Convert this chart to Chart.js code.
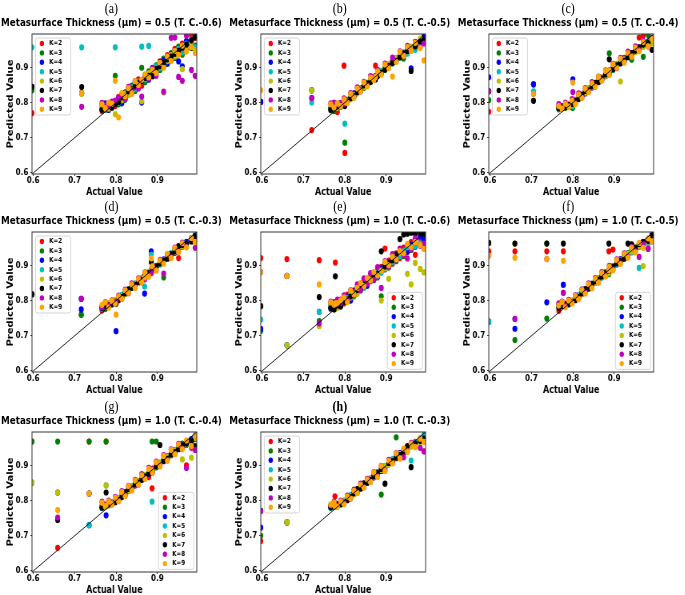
<!DOCTYPE html>
<html>
<head>
<meta charset="utf-8">
<script src="https://cdn.jsdelivr.net/npm/chart.js@4.4.1/dist/chart.umd.min.js"></script>
<style>
  html, body { margin: 0; background: #fff; }
  /* the source figure is horizontally condensed, so everything is laid out wider and squeezed */
  #fig { position: relative; width: 856px; height: 595px; transform: scaleX(0.8); transform-origin: 0 0; overflow: hidden; }
  #fig canvas { position: absolute; }
  .tag { position: absolute; width: 300px; text-align: center; font: 15px/16px "Liberation Serif", serif; color: #000; }
  .sub { position: absolute; width: 340px; text-align: center; font: bold 11px/12px "DejaVu Sans", sans-serif; color: #000; white-space: nowrap; }
</style>
</head>
<body>
<div id="fig"></div>
<script>
const kLabels = ['K=2', 'K=3', 'K=4', 'K=5', 'K=6', 'K=7', 'K=8', 'K=9'];
const kColors = ['#ff0000', '#008000', '#0000ff', '#00bfbf', '#bfbf00', '#000000', '#bf00bf', '#ffa500'];
const axisLimits = [0.597, 0.995];
const tickValues = [0.6, 0.7, 0.8, 0.9];

// actual values of the main band, shared by all panels
const bandActual = [.766, .774, .782, .790, .798, .806, .814, .822, .830, .838, .846, .854, .862, .870,
  .879, .888, .897, .906, .915, .924, .933, .942, .951, .960, .970, .982, .991];

// ---- (a) 0.5 / T.C.-0.6
const outActualA = [.597, .717];
const outPredA = [
  [.770, .827], [.835, .826], [.845, .828], [.957, .957],
  [null, .826], [.845, .844], [null, .788], [null, .827]
];
const bandPredA = [
  [.776, .795, .782, .801, .790, .816, .803, .812, .840, .826, .852, .866, .848, .879, .870, .894, .885, .917, .903, .935, .921, .953, .938, .968, .949, .990, .984],
  [.792, .780, .797, .785, .876, .795, .823, .808, .822, .848, .833, .843, .899, .858, .889, .875, .906, .893, .925, .910, .941, .927, .959, .936, .974, .955, .962],
  [.781, .798, .779, .788, .803, .812, .798, .829, .836, .829, .858, .841, .800, .877, .865, .899, .883, .915, .920, .912, .938, .948, .917, .903, .975, .963, .988],
  [.789, .783, .796, .799, .957, .799, .820, .816, .834, .843, .839, .860, .959, .866, .961, .881, .903, .898, .909, .928, .925, .945, .953, .943, .968, .979, .958],
  [.794, .786, .783, .792, .767, .809, .807, .826, .821, .833, .851, .847, .804, .874, .884, .879, .892, .911, .829, .918, .936, .931, .940, .895, .959, .972, .950],
  [.780, .789, .793, .786, .796, .801, .815, .818, .832, .838, .846, .856, .862, .870, .876, .875, .895, .904, .913, .923, .931, .939, .947, .956, .965, .977, .986],
  [.799, .791, .790, .803, .806, .814, .823, .810, .845, .836, .861, .840, .817, .878, .868, .897, .876, .912, .831, .930, .984, .985, .873, .862, .990, .893, .876],
  [.795, .784, .800, .797, .862, .758, .827, .818, .841, .826, .861, .850, .865, .880, .872, .893, .884, .913, .899, .931, .918, .947, .936, .962, .945, .958, .941]
];

// ---- (b) 0.5 / T.C.-0.5
const outActualB = [.597, .720, .800, .874];
const outPredB = [
  [.802, .722, .657, .905], [.802, .835, .686, .875], [.802, .835, .795, .872], [null, .800, .740, .868],
  [null, .835, .800, .870], [null, .813, .790, .866], [null, .813, .797, .876], [.835, null, .802, .873]
];
const bandPredB = [
  [.778, .781, .773, .792, .905, .804, .812, .820, .831, .836, .846, .852, .862, .868, .880, .886, .897, .903, .916, .921, .933, .937, .948, .951, .965, .972, .985],
  [.783, .776, .790, .788, .796, .807, .810, .823, .827, .839, .842, .856, .858, .871, .876, .889, .893, .907, .911, .926, .928, .925, .950, .957, .958, .975, .980],
  [.786, .791, .787, .795, .800, .808, .815, .826, .832, .840, .848, .851, .863, .866, .882, .884, .899, .906, .918, .923, .936, .941, .944, .897, .968, .969, .988],
  [.781, .785, .792, .790, .797, .802, .817, .819, .828, .835, .847, .855, .860, .870, .877, .891, .895, .902, .912, .920, .931, .943, .939, .953, .950, .966, .974],
  [.790, .788, .785, .794, .801, .806, .811, .822, .826, .838, .844, .850, .865, .867, .881, .888, .900, .910, .915, .925, .934, .936, .952, .959, .963, .982, .971],
  [.780, .784, .789, .791, .794, .803, .813, .818, .830, .834, .849, .854, .859, .872, .875, .885, .894, .904, .913, .919, .929, .940, .947, .890, .960, .973, .978],
  [.798, .800, .797, .799, .812, .801, .827, .815, .843, .832, .859, .849, .875, .866, .893, .881, .911, .900, .928, .917, .946, .934, .961, .948, .973, .958, .968],
  [.795, .786, .798, .790, .809, .799, .824, .814, .840, .832, .857, .846, .871, .864, .889, .880, .908, .898, .874, .916, .944, .933, .958, .947, .970, .955, .920]
];

// ---- (c) 0.5 / T.C.-0.4
const outActualC = [.597, .705, .800, .888];
const outPredC = [
  [.774, .852, .790, .890], [.807, .852, .785, .940], [.872, .852, .866, .886], [.832, .832, .790, .885],
  [.832, .805, .795, .888], [.832, .805, .800, .923], [.832, .825, .830, .892], [null, .825, .857, .891]
];
const bandPredC = [
  [.786, .788, .790, .789, .795, .806, .816, .820, .829, .840, .844, .852, .860, .868, .879, .885, .898, .904, .913, .927, .934, .939, .950, .985, .990, .968, .982],
  [.781, .784, .785, .790, .786, .803, .811, .823, .831, .836, .846, .855, .862, .866, .881, .889, .893, .905, .918, .921, .935, .922, .947, .953, .930, .992, .975],
  [.787, .785, .791, .793, .797, .808, .815, .821, .826, .838, .843, .851, .858, .871, .875, .884, .897, .908, .911, .924, .931, .941, .945, .956, .960, .974, .979],
  [.783, .790, .788, .791, .799, .804, .812, .819, .830, .837, .848, .850, .861, .867, .878, .890, .894, .902, .916, .920, .930, .936, .949, .955, .963, .971, .972],
  [.789, .786, .792, .787, .801, .807, .817, .824, .828, .841, .845, .853, .864, .872, .876, .888, .899, .910, .860, .923, .933, .938, .944, .952, .958, .962, .968],
  [.784, .789, .787, .794, .796, .805, .810, .822, .833, .835, .847, .856, .859, .869, .880, .883, .895, .906, .914, .919, .929, .940, .948, .957, .965, .969, .950],
  [.796, .786, .800, .791, .810, .798, .826, .815, .841, .831, .858, .846, .874, .864, .892, .880, .910, .898, .927, .915, .945, .933, .960, .949, .975, .960, .984],
  [.790, .782, .797, .788, .806, .796, .823, .813, .839, .830, .855, .845, .873, .862, .890, .879, .909, .899, .924, .914, .941, .930, .956, .946, .972, .960, .981]
];

// ---- (d) 0.5 / T.C.-0.3
const outActualD = [.597, .716, .800, .869, .885];
const outPredD = [
  [.818, .760, .795, .865, .880], [.818, .760, .790, .870, .885], [.818, .775, .713, .820, .940], [.818, .805, .800, .840, .930],
  [.818, .805, .798, .868, .890], [.818, .805, .792, .872, .910], [null, .805, .797, .860, .878], [null, null, .760, .866, .920]
];
const bandPredD = [
  [.772, .785, .789, .792, .797, .804, .813, .819, .827, .839, .846, .851, .862, .869, .877, .888, .895, .904, .913, .924, .929, .938, .921, .957, .964, .972, .981],
  [.780, .776, .786, .790, .795, .806, .811, .822, .830, .836, .844, .854, .860, .867, .880, .885, .898, .907, .866, .921, .933, .941, .948, .953, .960, .969, .978],
  [.783, .787, .791, .789, .800, .807, .815, .820, .828, .840, .843, .852, .863, .871, .876, .890, .894, .905, .917, .926, .931, .936, .950, .956, .967, .975, .985],
  [.777, .786, .788, .794, .799, .803, .816, .824, .831, .838, .849, .856, .861, .866, .879, .887, .899, .902, .912, .927, .935, .944, .947, .960, .963, .976, .988],
  [.782, .790, .792, .795, .802, .808, .812, .818, .829, .841, .847, .850, .864, .872, .881, .886, .896, .909, .915, .920, .930, .939, .952, .955, .961, .971, .979],
  [.779, .784, .787, .791, .794, .801, .810, .821, .832, .837, .845, .853, .859, .870, .878, .889, .897, .906, .914, .919, .932, .940, .955, .958, .962, .968, .983],
  [.781, .796, .786, .801, .793, .814, .805, .831, .821, .849, .838, .863, .852, .880, .870, .898, .887, .916, .877, .932, .923, .951, .939, .965, .953, .978, .950],
  [.788, .795, .780, .799, .791, .812, .805, .829, .822, .846, .836, .861, .852, .879, .868, .897, .885, .914, .905, .933, .921, .949, .938, .963, .951, .978, .966]
];

// ---- (e) 1.0 / T.C.-0.6
const outActualE = [.597, .660, .738, .777];
const outPredE = [
  [.921, .918, .915, .908], [.714, .673, .742, .786], [.720, .673, .768, .790], [.746, .673, .768, .788],
  [.784, .673, .727, .776], [.784, .870, .810, .869], [.881, .870, .735, .790], [.881, .870, .846, .792]
];
const bandPredE = [
  [.781, .796, .785, .803, .792, .817, .806, .829, .824, .847, .839, .860, .855, .878, .866, .896, .948, .914, .905, .934, .921, .951, .938, .966, .930, .977, .968],
  [.789, .778, .795, .786, .805, .798, .821, .812, .838, .829, .852, .846, .869, .858, .886, .812, .904, .894, .922, .912, .940, .927, .957, .944, .972, .960, .985],
  [.777, .792, .781, .796, .803, .811, .800, .826, .833, .832, .857, .842, .866, .874, .870, .892, .889, .909, .918, .916, .937, .944, .939, .959, .953, .983, .975],
  [.786, .784, .798, .791, .794, .808, .818, .815, .828, .844, .836, .858, .857, .867, .883, .879, .900, .899, .910, .927, .926, .943, .952, .947, .955, .963, .950],
  [.792, .789, .780, .797, .800, .802, .809, .823, .819, .840, .848, .851, .862, .871, .875, .800, .891, .862, .916, .921, .935, .932, .876, .846, .907, .890, .880],
  [.779, .775, .786, .783, .795, .803, .812, .820, .830, .835, .847, .854, .860, .868, .877, .940, .897, .906, .915, .931, .975, .988, .990, .993, .990, .993, .990],
  [.797, .788, .803, .794, .815, .802, .829, .817, .846, .830, .863, .848, .878, .859, .895, .836, .912, .896, .932, .918, .948, .930, .920, .945, .977, .956, .962],
  [.795, .789, .792, .801, .809, .796, .828, .818, .836, .850, .842, .864, .858, .881, .871, .885, .910, .901, .924, .917, .941, .935, .961, .952, .966, .958, .947]
];

// ---- (f) 1.0 / T.C.-0.5
const outActualF = [.597, .660, .737, .777, .887];
const outPredF = [
  [.940, .940, .940, .940, .940], [.740, .688, .749, .845, .875], [.740, .720, .795, .845, .882], [.740, .748, .962, .822, .880],
  [.964, .962, .962, .822, .878], [.964, .962, .962, .962, .962], [.928, .748, .918, .822, .885], [.928, .922, .918, .913, .886]
];
const bandPredF = [
  [.771, .786, .790, .789, .797, .806, .813, .822, .828, .839, .845, .854, .860, .868, .879, .888, .945, .903, .915, .924, .932, .941, .949, .957, .963, .975, .982],
  [.785, .789, .787, .793, .795, .804, .812, .819, .831, .836, .848, .851, .863, .871, .876, .886, .893, .906, .913, .921, .935, .938, .951, .953, .960, .947, .970],
  [.782, .784, .791, .790, .799, .809, .815, .823, .827, .840, .843, .856, .858, .867, .881, .884, .897, .904, .918, .927, .930, .943, .944, .960, .966, .972, .985],
  [.787, .788, .786, .794, .796, .803, .816, .820, .830, .837, .846, .852, .861, .866, .877, .890, .898, .902, .912, .920, .931, .937, .946, .893, .958, .962, .975],
  [.789, .791, .792, .795, .801, .807, .811, .818, .829, .841, .844, .850, .864, .872, .880, .887, .895, .908, .916, .922, .933, .940, .952, .955, .898, .968, .979],
  [.780, .785, .789, .791, .794, .801, .810, .821, .833, .834, .847, .855, .859, .869, .878, .885, .896, .906, .914, .919, .962, .960, .950, .961, .967, .970, .986],
  [.792, .797, .784, .802, .794, .815, .806, .832, .823, .849, .837, .864, .853, .881, .870, .899, .888, .917, .906, .934, .924, .952, .940, .924, .960, .948, .968],
  [.786, .796, .781, .800, .792, .813, .804, .830, .820, .847, .835, .862, .851, .878, .869, .896, .886, .915, .904, .932, .922, .950, .937, .964, .950, .977, .968]
];

// ---- (g) 1.0 / T.C.-0.4
const outActualG = [.597, .659, .735, .776, .887];
const outPredG = [
  [.968, .666, .968, .968, .835], [.968, .968, .968, .968, .968], [.851, .823, .730, .758, .880], [.851, .823, .730, .843, .797],
  [.851, .823, .820, .843, .885], [null, .745, .820, .823, .880], [null, .752, .820, .785, .890], [null, .773, .820, .785, .887]
];
const bandPredG = [
  [.781, .786, .790, .793, .798, .805, .812, .821, .827, .838, .844, .853, .862, .868, .867, .887, .896, .903, .914, .923, .932, .937, .948, .955, .900, .968, .975],
  [.784, .783, .788, .790, .795, .808, .815, .818, .830, .836, .847, .852, .860, .871, .878, .889, .968, .906, .917, .920, .929, .940, .951, .962, .958, .972, .982],
  [.782, .788, .787, .795, .800, .803, .811, .824, .831, .840, .843, .855, .863, .866, .876, .885, .898, .907, .912, .926, .935, .939, .946, .957, .964, .975, .985],
  [.779, .785, .791, .789, .797, .806, .816, .820, .828, .837, .849, .850, .858, .870, .880, .884, .894, .902, .915, .921, .930, .944, .949, .953, .960, .966, .950],
  [.786, .790, .786, .794, .802, .807, .813, .819, .829, .841, .845, .856, .864, .872, .881, .886, .899, .909, .918, .924, .933, .941, .953, .917, .961, .922, .978],
  [.780, .784, .789, .791, .796, .801, .810, .822, .833, .834, .846, .851, .859, .869, .877, .890, .897, .958, .913, .919, .931, .938, .947, .956, .962, .970, .955],
  [.797, .787, .800, .791, .810, .799, .827, .814, .842, .832, .859, .846, .875, .863, .893, .880, .911, .899, .929, .916, .946, .933, .961, .948, .893, .950, .944],
  [.794, .783, .798, .790, .808, .798, .824, .813, .841, .829, .857, .846, .872, .862, .890, .879, .909, .897, .927, .913, .944, .932, .959, .946, .971, .955, .985]
];

// ---- (h) 1.0 / T.C.-0.3
const outActualH = [.597, .660, .776];
const outPredH = [
  [.685, .738, .812], [.700, .738, .785], [.723, .738, .790], [.771, .738, .787],
  [.771, .738, .783], [.771, null, .790], [.771, null, .786], [null, null, .784]
];
const bandPredH = [
  [.784, .787, .790, .792, .797, .806, .813, .820, .828, .839, .846, .851, .863, .868, .879, .886, .897, .905, .916, .921, .933, .939, .950, .958, .967, .973, .980],
  [.780, .784, .788, .791, .799, .804, .811, .822, .831, .836, .844, .855, .860, .870, .877, .817, .895, .906, .915, .980, .930, .942, .948, .955, .961, .969, .985],
  [.782, .786, .787, .794, .796, .808, .815, .819, .827, .840, .843, .850, .862, .866, .881, .884, .894, .903, .913, .924, .935, .937, .946, .960, .963, .975, .978],
  [.779, .788, .791, .790, .800, .803, .816, .823, .830, .837, .848, .853, .858, .872, .876, .889, .898, .908, .918, .926, .931, .940, .952, .914, .965, .978, .988],
  [.786, .785, .786, .795, .798, .807, .812, .818, .829, .841, .845, .856, .864, .867, .880, .887, .899, .902, .914, .920, .932, .944, .947, .953, .959, .966, .940],
  [.781, .783, .789, .789, .794, .801, .810, .821, .833, .834, .849, .852, .859, .869, .878, .890, .848, .907, .912, .922, .929, .938, .955, .895, .962, .970, .976],
  [.787, .797, .785, .800, .793, .814, .806, .831, .822, .848, .838, .862, .853, .881, .869, .899, .886, .916, .907, .935, .921, .923, .940, .964, .953, .950, .940],
  [.789, .794, .782, .798, .790, .811, .806, .828, .821, .845, .837, .860, .853, .880, .867, .898, .884, .913, .906, .934, .920, .948, .939, .962, .952, .976, .967]
];

const panels = [
  {tag: '(a)', title: 'Metasurface Thickness (µm) = 0.5 (T. C.-0.6)', outX: outActualA, outY: outPredA, bandY: bandPredA, corner: 'ul'},
  {tag: '(b)', title: 'Metasurface Thickness (µm) = 0.5 (T. C.-0.5)', outX: outActualB, outY: outPredB, bandY: bandPredB, corner: 'ul'},
  {tag: '(c)', title: 'Metasurface Thickness (µm) = 0.5 (T. C.-0.4)', outX: outActualC, outY: outPredC, bandY: bandPredC, corner: 'ul'},
  {tag: '(d)', title: 'Metasurface Thickness (µm) = 0.5 (T. C.-0.3)', outX: outActualD, outY: outPredD, bandY: bandPredD, corner: 'ul'},
  {tag: '(e)', title: 'Metasurface Thickness (µm) = 1.0 (T. C.-0.6)', outX: outActualE, outY: outPredE, bandY: bandPredE, corner: 'lr'},
  {tag: '(f)', title: 'Metasurface Thickness (µm) = 1.0 (T. C.-0.5)', outX: outActualF, outY: outPredF, bandY: bandPredF, corner: 'lr'},
  {tag: '(g)', title: 'Metasurface Thickness (µm) = 1.0 (T. C.-0.4)', outX: outActualG, outY: outPredG, bandY: bandPredG, corner: 'lr'},
  {tag: '(h)', title: 'Metasurface Thickness (µm) = 1.0 (T. C.-0.3)', outX: outActualH, outY: outPredH, bandY: bandPredH, corner: 'ul'}
];

// layout (unscaled px, the whole figure is squeezed by 0.8 horizontally)
const colLeft = [40, 325.5, 611];
const rowTop = [31, 229, 428.5];
const plotW = 206, plotH = 143;
const yAxisW = 40, xAxisH = 26, padTop = 4, padRight = 6;
const dotR = 3.1;

Chart.defaults.font.family = '"DejaVu Sans", sans-serif';
Chart.defaults.color = '#000';

// box around the axes + matplotlib-like legend inside the plot
const frameKey = {
  id: 'frameKey',
  afterDraw(chart, args, opts) {
    const {ctx, chartArea: a} = chart;
    ctx.save();
    ctx.lineWidth = 1;
    ctx.strokeStyle = '#333';
    ctx.strokeRect(a.left, a.top, a.width, a.height);

    const w = 44, h = 77;
    const bx = opts.corner === 'ul' ? a.left + 4.4 : a.right - 3.8 - w;
    const by = opts.corner === 'ul' ? a.top + 4 : a.bottom - 2.7 - h;
    ctx.beginPath();
    ctx.roundRect(bx, by, w, h, 2.5);
    ctx.fillStyle = 'rgba(255,255,255,0.85)';
    ctx.fill();
    ctx.strokeStyle = '#d4d4d4';
    ctx.stroke();

    ctx.font = 'bold 7px "DejaVu Sans"';
    ctx.textBaseline = 'middle';
    let row = 0;
    chart.data.datasets.forEach(ds => {
      if (!ds.label.startsWith('K')) return;
      const y = by + 5.5 + row * 9.4;
      ctx.fillStyle = ds.backgroundColor;
      ctx.beginPath();
      ctx.arc(bx + 8, y, 2.7, 0, Math.PI * 2);
      ctx.fill();
      ctx.fillStyle = '#000';
      ctx.fillText(ds.label, bx + 17, y);
      row++;
    });
    ctx.restore();
  }
};

function axis(title, isY) {
  return {
    type: 'linear',
    min: axisLimits[0],
    max: axisLimits[1],
    afterBuildTicks: s => { s.ticks = tickValues.map(v => ({value: v})); },
    afterFit: s => { if (isY) s.width = yAxisW; else s.height = xAxisH; },
    grid: {drawOnChartArea: false, drawTicks: true, tickLength: 2, color: '#333'},
    border: {display: false},
    ticks: {
      autoSkip: false,
      padding: isY ? 2.5 : 0,
      font: {size: 9, weight: 'bold', lineHeight: 1},
      callback: v => v.toFixed(1)
    },
    title: {
      display: true,
      text: title,
      font: {size: 10, weight: 'bold', lineHeight: 1.2},
      padding: isY ? {top: 7.5, bottom: 0} : {top: 0, bottom: 2}
    }
  };
}

function buildDatasets(p) {
  const actual = p.outX.concat(bandActual);
  const sets = kLabels.map((lab, k) => {
    const preds = p.outY[k].concat(p.bandY[k]);
    const pts = [];
    preds.forEach((y, j) => { if (y !== null) pts.push({x: actual[j], y: y}); });
    return {
      label: lab,
      data: pts,
      backgroundColor: kColors[k],
      borderWidth: 0,
      pointRadius: dotR,
      pointHoverRadius: dotR,
      order: kLabels.length - k,   // K=9 ends up on top
      clip: 0
    };
  });
  sets.push({
    label: 'y = x',
    data: axisLimits.map(v => ({x: v, y: v})),
    showLine: true,
    borderColor: '#000',
    borderWidth: 0.9,
    pointRadius: 0,
    order: 0,
    clip: 0
  });
  return sets;
}

const fig = document.getElementById('fig');

function addText(cls, text, centerX, top, width) {
  const d = document.createElement('div');
  d.className = cls;
  d.textContent = text;
  d.style.left = (centerX - width / 2) + 'px';
  d.style.top = top + 'px';
  fig.appendChild(d);
  return d;
}

panels.forEach((p, i) => {
  const cx = colLeft[i % 3];
  const cy = rowTop[Math.floor(i / 3)];
  const mid = cx + plotW / 2 - 3.75;
  const tag = addText('tag', p.tag, mid, cy - 23 - 8, 300);
  if (p.tag === '(h)') tag.style.fontWeight = 'bold';
  addText('sub', p.title, mid, cy - 8 - 6, 340);

  const cv = document.createElement('canvas');
  cv.width = yAxisW + plotW + padRight;
  cv.height = padTop + plotH + xAxisH;
  cv.style.left = (cx - yAxisW) + 'px';
  cv.style.top = (cy - padTop) + 'px';
  fig.appendChild(cv);

  new Chart(cv, {
    type: 'scatter',
    data: {datasets: buildDatasets(p)},
    options: {
      responsive: false,
      animation: false,
      events: [],
      layout: {padding: {top: padTop, right: padRight, left: 0, bottom: 0}},
      plugins: {
        legend: {display: false},
        tooltip: {enabled: false},
        frameKey: {corner: p.corner}
      },
      scales: {
        x: axis('Actual Value', false),
        y: axis('Predicted Value', true)
      }
    },
    plugins: [frameKey]
  });
});
</script>
</body>
</html>
